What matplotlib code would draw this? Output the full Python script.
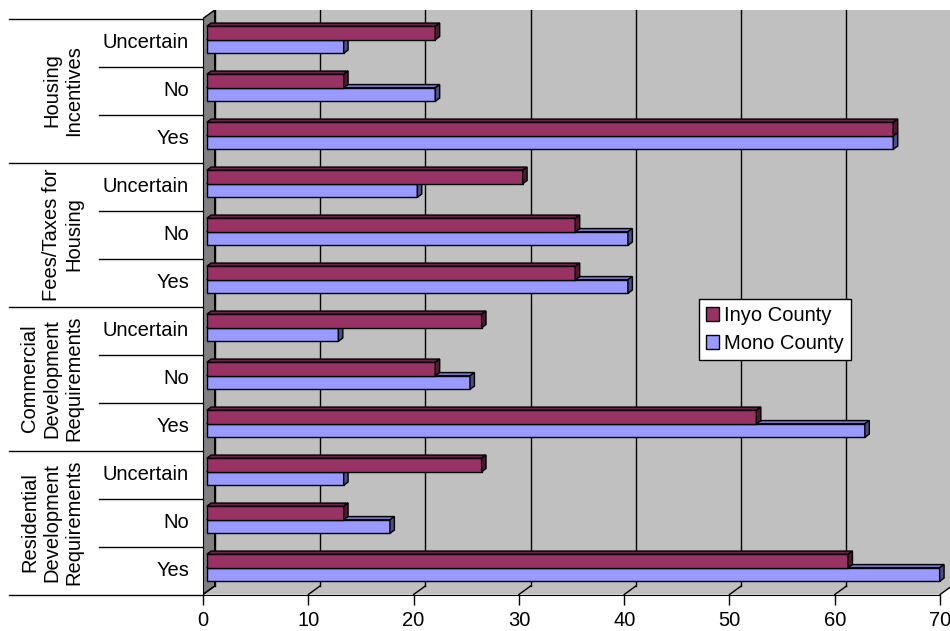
import numpy as np
import matplotlib.pyplot as plt
from matplotlib.patches import Polygon, Patch

plt.rcParams['font.family'] = ['Liberation Sans', 'DejaVu Sans']

# Données (pourcentages), de haut en bas
groupes = ["Housing\nIncentives", "Fees/Taxes for\nHousing",
           "Commercial\nDevelopment\nRequirements",
           "Residential\nDevelopment\nRequirements"]
reponses = ["Uncertain", "No", "Yes"]
inyo = [21.7, 13.0, 65.2,
        30.0, 35.0, 35.0,
        26.1, 21.7, 52.2,
        26.1, 13.0, 60.9]
mono = [13.0, 21.7, 65.2,
        20.0, 40.0, 40.0,
        12.5, 25.0, 62.5,
        13.0, 17.4, 69.6]
series = ["Inyo County", "Mono County"]
xticks = [0, 10, 20, 30, 40, 50, 60, 70]

# Couleurs (façon Excel 3D)
c_inyo = ("#993366", "#6B2447", "#4C1A33")   # face, dessus, côté
c_mono = ("#9999FF", "#7373C0", "#4D4D80")
gris_mur = "#C0C0C0"
gris_cote = "#808080"
FS = 14.5

# Géométrie
W, H = 950, 631
PX = 10.53          # pixels par unité x
RY = 48.0           # pixels par rangée
DX = 11.7 / PX      # profondeur 3D en x (unités)
DY = 8.5 / RY       # profondeur 3D en y (rangées)
FO = 0.32           # position de la face avant des barres dans la profondeur
BD = 0.38           # épaisseur des barres dans la profondeur
BH = 13.5 / RY      # hauteur d'une barre
nrows = len(inyo)
xmax = 70 + DX

fig = plt.figure(figsize=(W / 100, H / 100), dpi=100)
x0_px, y0_px = 203, 594.5
ax = fig.add_axes([x0_px / W, (H - y0_px) / H,
                   (xmax * PX) / W, (nrows + DY) * RY / H])
ax.set_xlim(0, xmax)
ax.set_ylim(0, nrows + DY)

# Murs et plancher
ax.add_patch(Polygon([(DX, DY), (xmax, DY), (xmax, nrows + DY), (DX, nrows + DY)],
                     closed=True, facecolor=gris_mur, edgecolor="none", zorder=0))
ax.add_patch(Polygon([(0, 0), (70, 0), (70 + DX, DY), (DX, DY)],
                     closed=True, facecolor=gris_mur, edgecolor="none", zorder=0))
ax.add_patch(Polygon([(0, 0), (DX, DY), (DX, nrows + DY), (0, nrows)],
                     closed=True, facecolor=gris_cote, edgecolor="black", lw=1, zorder=1))

# Quadrillage sur le mur du fond + traits obliques sur le plancher
for k in xticks:
    ax.plot([k + DX, k + DX], [DY, nrows + DY], color="black", lw=1, zorder=1)
    ax.plot([k, k + DX], [0, DY], color="black", lw=1, zorder=1)


def barre_3d(y_bas, vals, couleurs):
    face, dessus, cote = couleurs
    gauche = FO * DX
    ax.barh(y_bas, vals, left=gauche, height=BH, align="edge",
            color=face, edgecolor="black", lw=1, zorder=3)
    for yb, v in zip(y_bas, vals):
        x1 = gauche + v
        yt = yb + BH
        ox, oy = BD * DX, BD * DY
        ax.add_patch(Polygon([(gauche, yt), (x1, yt), (x1 + ox, yt + oy), (gauche + ox, yt + oy)],
                             closed=True, facecolor=dessus, edgecolor="black", lw=1, zorder=3))
        ax.add_patch(Polygon([(x1, yb), (x1, yt), (x1 + ox, yt + oy), (x1 + ox, yb + oy)],
                             closed=True, facecolor=cote, edgecolor="black", lw=1, zorder=3))


centres = nrows - np.arange(nrows) - 0.5
base = centres + FO * DY
# Mono d'abord (dessous), puis Inyo par-dessus
for i in range(nrows):
    barre_3d([base[i] - BH], [mono[i]], c_mono)
    barre_3d([base[i]], [inyo[i]], c_inyo)

# Axes
for s in ["top", "right"]:
    ax.spines[s].set_visible(False)
ax.spines["bottom"].set_bounds(0, 70)
ax.spines["left"].set_bounds(0, nrows)
ax.spines["bottom"].set_zorder(4)
ax.set_xticks(xticks)
ax.set_xticklabels([str(t) for t in xticks], fontsize=FS)
ax.tick_params(axis="x", direction="out", length=7, width=1, pad=5)
ax.set_yticks([])

# Étiquettes de catégories à gauche
xg0 = (9 - x0_px) / PX
xs0 = (99 - x0_px) / PX
for g in range(len(groupes) + 1):
    yl = nrows - 3 * g
    ax.plot([xg0, 0], [yl, yl], color="black", lw=1, clip_on=False)
for i in range(nrows):
    if i % 3:
        yl = nrows - i
        ax.plot([xs0, 0], [yl, yl], color="black", lw=1, clip_on=False)
    ax.text((189 - x0_px) / PX, centres[i], reponses[i % 3], ha="right", va="center",
            fontsize=FS, clip_on=False)
for g, nom in enumerate(groupes):
    ax.text((83 - x0_px) / PX, nrows - 3 * g - 1.5, nom, rotation=90, ha="right",
            va="center", multialignment="center", fontsize=FS, linespacing=1.2,
            clip_on=False)

# Légende
poignees = [Patch(facecolor=c_inyo[0], edgecolor="black"),
            Patch(facecolor=c_mono[0], edgecolor="black")]
leg = fig.legend(poignees, series, loc="upper left",
                 bbox_to_anchor=(699 / W, 1 - 299 / H), borderaxespad=0,
                 fontsize=FS, frameon=True, fancybox=False, shadow=False,
                 borderpad=0.35, labelspacing=0.45, handlelength=0.65,
                 handleheight=0.65, handletextpad=0.25)
leg.get_frame().set_edgecolor("black")
leg.get_frame().set_linewidth(1)
leg.get_frame().set_alpha(1)

fig.savefig("out.png", dpi=100)
